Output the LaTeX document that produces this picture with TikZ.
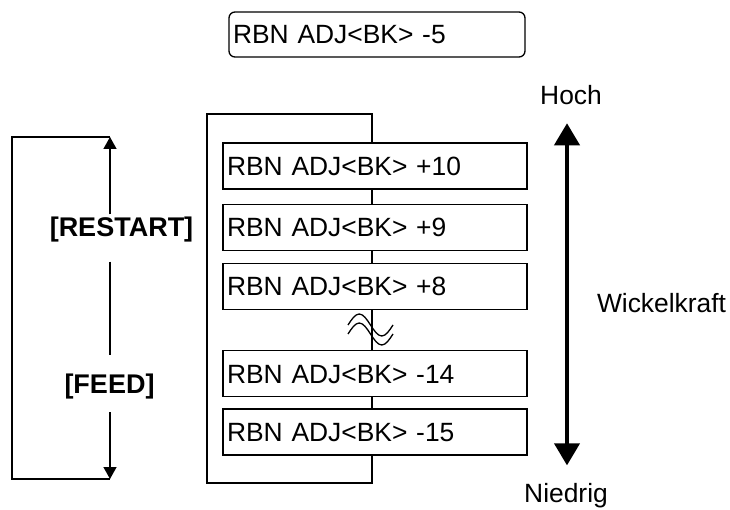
\documentclass[tikz,border=0pt]{standalone}
\usepackage{fontspec}
\setmainfont{Liberation Sans}
\usetikzlibrary{arrows.meta}
\begin{document}
\begin{tikzpicture}[x=1pt,y=-1pt,
  txt/.style={font=\fontsize{26.4}{30}\selectfont, inner sep=0pt, outer sep=0pt},
  val/.style={draw, line width=1.3pt, txt, text height=19pt, text depth=0pt,
              minimum height=46pt, text width=296pt, inner xsep=4pt, align=left},
  topbox/.style={val, rounded corners=6pt, text width=288pt, minimum height=45pt},
  keylbl/.style={txt, font=\fontsize{27}{30}\selectfont\bfseries, inner ysep=3pt},
  conn/.style={line width=1.3pt},
  smalltip/.style={-{Triangle[length=12pt,width=13pt]}},
  bigtip/.style={{Triangle[length=22pt,width=25pt]}-{Triangle[length=22pt,width=25pt]}}
]
\useasboundingbox (0,0) rectangle (730,510);

% top box
\node[topbox] (top) at (377,34.5) {RBN ADJ<BK> -5};

% frame coordinates
\coordinate (ftr) at (372,114);
\coordinate (ftl) at (207,114);
\coordinate (fbl) at (207,483);
\coordinate (fbr) at (372,483);

% value boxes
\node[val] (b1) at (375,166) {RBN ADJ<BK> +10};
\node[val] (b2) at (375,227.5) {RBN ADJ<BK> +9};
\node[val] (b3) at (375,286.5) {RBN ADJ<BK> +8};
\node[val] (b4) at (375,373.5) {RBN ADJ<BK> -14};
\node[val] (b5) at (375,432) {RBN ADJ<BK> -15};

% loop frame
\draw[conn] (b1.north -| ftr) -- (ftr) -- (ftl) -- (fbl) -- (fbr) -- (b5.south -| fbr);
\draw[conn] (b1.south -| ftr) -- (b2.north -| ftr);
\draw[conn] (b2.south -| ftr) -- (b3.north -| ftr);
\draw[conn] (b3.south -| ftr) -- (b4.north -| ftr);
\draw[conn] (b4.south -| ftr) -- (b5.north -| ftr);

% break symbol
\draw[conn] (348,325) sin (359.25,314) cos (370.5,325) sin (381.75,336) cos (393,325);
\draw[conn] (348,334) sin (359.25,323) cos (370.5,334) sin (381.75,345) cos (393,334);

% left key loop
\coordinate (lt) at (110,137);
\coordinate (lb) at (110,479);
\coordinate (ltl) at (12,137);
\coordinate (lbl) at (12,479);
\node[keylbl, anchor=base] (restart) at (121.5,237) {[RESTART]};
\node[keylbl, anchor=base] (feed) at (109.5,393.5) {[FEED]};
\draw[conn] (lt) -- (ltl) -- (lbl) -- (lb);
\draw[conn, smalltip] (restart.north -| lt) -- (lt);
\draw[conn] ([yshift=-16pt]restart.south -| lt) -- ([yshift=16pt]feed.north -| lt);
\draw[conn, smalltip] ([yshift=-10pt]feed.south -| lb) -- (lb);

% right scale
\node[txt, anchor=base] (hoch) at (571,105) {Hoch};
\node[txt, anchor=base] (niedrig) at (566,502) {Niedrig};
\node[txt, anchor=west, text height=19pt, text depth=0pt] (wk) at (597,303) {Wickelkraft};
\draw[line width=4pt, bigtip, shorten <=18pt, shorten >=17.5pt] (hoch.south -| 567,0) -- (niedrig.north -| 567,0);
\end{tikzpicture}
\end{document}
